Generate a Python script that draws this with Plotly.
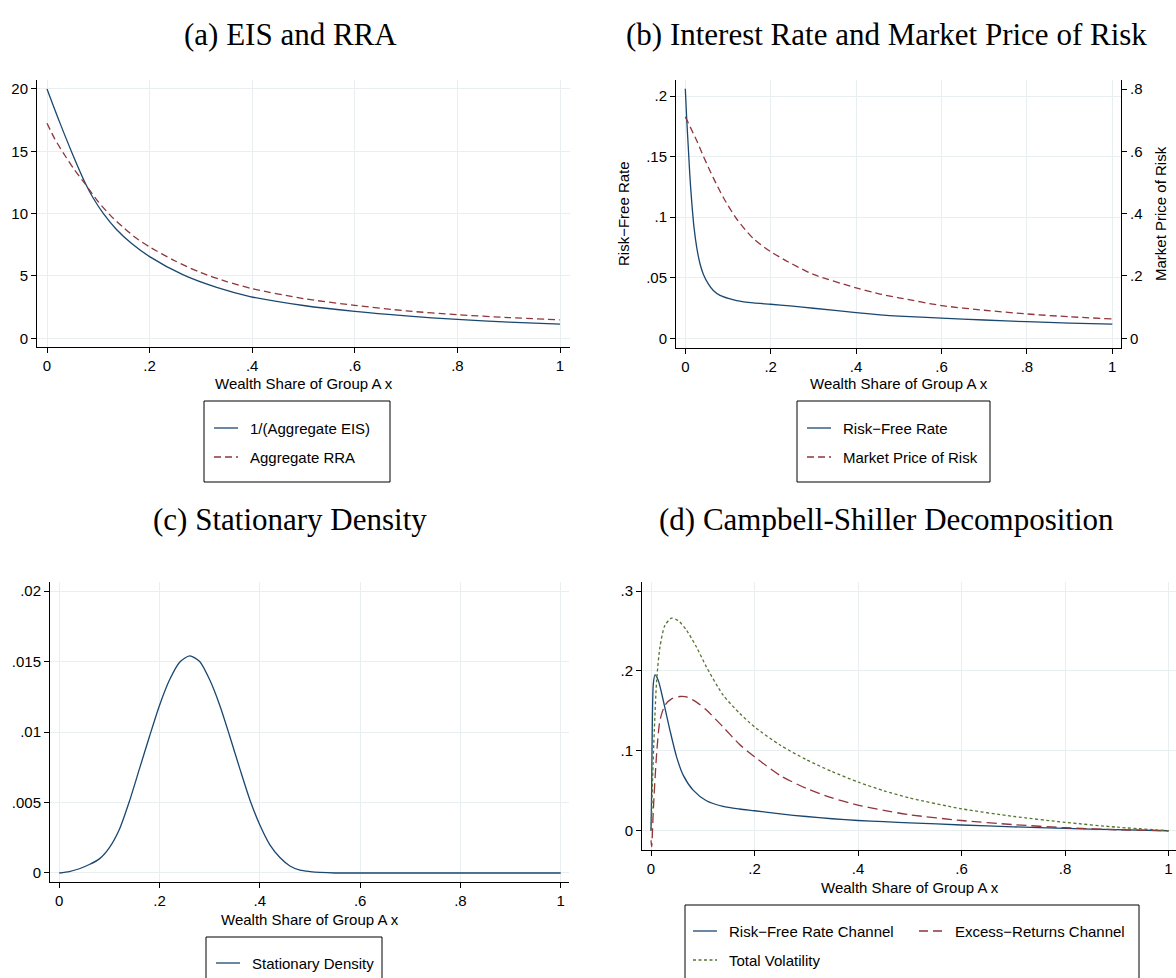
import plotly.graph_objects as go

W, H = 1176, 978

# ---------------- data ----------------
x_tickvals = [0, 0.2, 0.4, 0.6, 0.8, 1]
x_ticktext = ["0", ".2", ".4", ".6", ".8", "1"]

# (a) EIS and RRA
a_x_eis = [0, .024, .048, .074, .09, .11, .135, .165, .2, .2657, .3307, .3957, .5, .6, .7, .8, .9, 1]
a_eis_inv = [20, 17.4, 14.95, 12.5, 11.25, 10.0, 8.75, 7.6, 6.55, 5.08, 4.08, 3.35, 2.63, 2.15, 1.79, 1.51, 1.30, 1.13]
a_x_rra = [0, .015, .032, .052, .074, .1, .125, .15, .175, .2, .25, .3, .35, .4, .5, .6, .7, .8, .9, 1]
a_rra = [17.25, 16.0, 14.85, 13.6, 12.4, 10.95, 9.8, 8.85, 8.0, 7.33, 6.2, 5.26, 4.55, 3.98, 3.18, 2.64,
         2.20, 1.89, 1.66, 1.48]
a_yticks = [0, 5, 10, 15, 20]
a_yticktext = ["0", "5", "10", "15", "20"]

# (b) Interest rate and market price of risk
b_x_rf = [0, .0031, .007, .0109, .0148, .0203, .0266, .0344, .0422, .0539, .0656, .0813, .1008, .1203,
          .1594, .2, .2453, .3, .4, .456, .5, .6, .7, .8, .9, 1]
b_rf = [.206, .1822, .1575, .1329, .1137, .0918, .0753, .0616, .053, .045, .0395, .0355, .0330, .0312,
        .0293, .0282, .0268, .0249, .0213, .0195, .0184, .0168, .0152, .0138, .0127, .0118]
b_x_mpr = [0, .0266, .0422, .0656, .0891, .1203, .1594, .2, .2414, .3, .4, .456, .5, .6, .7, .8, .9, 1]
b_mpr = [.711, .635, .585, .515, .452, .383, .320, .278, .245, .205, .162, .142, .130, .105, .090, .078, .069, .062]
b_yticks_left = [0, .05, .1, .15, .2]
b_yticktext_left = ["0", ".05", ".1", ".15", ".2"]
b_yticks_right = [0, .2, .4, .6, .8]
b_yticktext_right = ["0", ".2", ".4", ".6", ".8"]

# (c) Stationary density
c_x = [0, .02, .04, .06, .08, .10, .12, .14, .16, .18, .20, .22, .24, .26, .28, .30, .32, .34, .36, .38,
       .40, .42, .44, .46, .48, .50, .52, .55, .6, .7, .8, .9, 1]
c_density = [0, .0001, .0003, .0006, .001, .0018, .0031, .0051, .0074, .0097, .0119, .0137, .01495, .0154,
             .0150, .0137, .0119, .0097, .0074, .0052, .0034, .0020, .0011, .0005, .0002, .0001, .00004,
             0, 0, 0, 0, 0, 0]
c_yticks = [0, .005, .01, .015, .02]
c_yticktext = ["0", ".005", ".01", ".015", ".02"]

# (d) Campbell-Shiller decomposition
d_x_rf = [0, .0013, .0026, .0045, .0077, .0141, .0237, .0365, .0494, .0622, .0814, .1071, .1391, .1712,
          .2, .25, .3, .35, .4, .45, .5, .6, .7, .8, .9, 1]
d_rf = [0, .055, .138, .184, .195, .188, .163, .126, .0925, .0696, .0508, .0375, .0305, .0272,
        .025, .021, .0178, .015, .0128, .0113, .0099, .0072, .0049, .0029, .0013, 0]
d_x_er = [0, .0013, .0045, .0109, .0173, .0269, .0397, .0558, .0686, .0878, .1071, .1391, .1712, .2,
          .25, .3, .35, .4, .45, .5, .6, .7, .8, .9, 1]
d_er = [-.012, -.02, .026, .0967, .138, .157, .165, .168, .1675, .161, .151, .130, .108, .0925,
        .069, .053, .041, .032, .0255, .020, .0128, .0077, .0038, .0012, 0]
d_x_tv = [0, .0013, .0032, .0064, .0109, .0173, .0269, .0397, .0526, .0686, .0878, .1071, .1391, .1712,
          .2, .25, .3, .35, .4, .45, .5, .6, .7, .8, .9, 1]
d_tv = [0, .02, .0675, .126, .188, .23, .257, .266, .263, .251, .23, .205, .170, .147,
        .13, .107, .089, .074, .061, .050, .041, .0275, .018, .0105, .0045, 0]
d_yticks = [0, .1, .2, .3]
d_yticktext = ["0", ".1", ".2", ".3"]

# ---------------- styling ----------------
NAVY = "#1a476f"
MAROON = "#90353b"
FOREST = "#55752f"
GRID = "#e9eff1"
SANS = "Liberation Sans, Arial, sans-serif"
SERIF = "Liberation Serif, Times New Roman, serif"
LW = 1.3


def px(xp):
    return xp / W


def py(yp):
    return 1 - yp / H


fig = go.Figure()


def line(x, y, color, dash, xa, ya):
    fig.add_trace(go.Scatter(
        x=x, y=y, mode="lines", xaxis=xa, yaxis=ya, showlegend=False, hoverinfo="skip",
        line=dict(color=color, width=LW, dash=dash, shape="spline", smoothing=0.7)))


line(a_x_eis, a_eis_inv, NAVY, "solid", "x", "y")
line(a_x_rra, a_rra, MAROON, "7px,4px", "x", "y")
line(b_x_rf, b_rf, NAVY, "solid", "x2", "y2")
line(b_x_mpr, b_mpr, MAROON, "7px,4px", "x2", "y5")
line(c_x, c_density, NAVY, "solid", "x3", "y3")
line(d_x_rf, d_rf, NAVY, "solid", "x4", "y4")
line(d_x_er, d_er, MAROON, "10px,5px", "x4", "y4")
line(d_x_tv, d_tv, FOREST, "3px,2.5px", "x4", "y4")

tickfont = dict(family=SANS, size=15, color="black")
common = dict(showline=True, linecolor="black", linewidth=1, ticks="outside", ticklen=5, tickwidth=1,
              tickcolor="black", showgrid=True, gridcolor=GRID, gridwidth=1, zeroline=False,
              tickfont=tickfont, fixedrange=True, tickmode="array")


def xaxis(dom, rng, anchor):
    return dict(domain=[px(dom[0]), px(dom[1])], range=rng, anchor=anchor,
                tickvals=x_tickvals, ticktext=x_ticktext, **common)


def yaxis(dom, rng, anchor, tv, tt, **kw):
    d = dict(domain=[py(dom[1]), py(dom[0])], range=rng, anchor=anchor, tickvals=tv, ticktext=tt)
    d.update(common)
    d.update(kw)
    return d


fig.update_layout(
    width=W, height=H, autosize=False, margin=dict(l=0, r=0, t=0, b=0),
    paper_bgcolor="white", plot_bgcolor="white", showlegend=False,
    xaxis=xaxis((37, 570), [-0.0195, 1.0195], "y"),
    yaxis=yaxis((80, 347), [-0.7, 20.72], "x", a_yticks, a_yticktext),
    xaxis2=xaxis((676, 1121), [-0.0218, 1.0204], "y2"),
    yaxis2=yaxis((80, 348), [-0.0079, 0.2132], "x2", b_yticks_left, b_yticktext_left),
    yaxis5=yaxis((80, 348), [-0.0313, 0.8294], "x2", b_yticks_right, b_yticktext_right,
                 overlaying="y2", side="right"),
    xaxis3=xaxis((50, 569), [-0.0185, 1.0165], "y3"),
    yaxis3=yaxis((582, 882), [-0.00064, 0.02064], "x3", c_yticks, c_yticktext),
    xaxis4=xaxis((642, 1176), [-0.0174, 1.0145], "y4"),
    yaxis4=yaxis((582, 850), [-0.0241, 0.3113], "x4", d_yticks, d_yticktext),
)
fig.layout.yaxis5.showgrid = False

ann = []
shapes = []


def text(x, y, s, size=15, family=SANS, xanchor="center", angle=0):
    ann.append(dict(x=px(x), y=py(y), xref="paper", yref="paper", text=s, showarrow=False,
                    xanchor=xanchor, yanchor="middle", textangle=angle,
                    font=dict(family=family, size=size, color="black")))


# panel titles
text(290, 35, "(a) EIS and RRA", size=31, family=SERIF)
text(886, 35, "(b) Interest Rate and Market Price of Risk", size=31, family=SERIF)
text(290, 519, "(c) Stationary Density", size=31, family=SERIF)
text(886, 519, "(d) Campbell-Shiller Decomposition", size=31, family=SERIF)

# axis titles
xt = "Wealth Share of Group A x"
text(303.5, 384, xt)
text(898.5, 384, xt)
text(309.5, 919, xt)
text(909.5, 887, xt)
text(623, 214, "Risk\u2212Free Rate", angle=-90)
text(1160, 214, "Market Price of Risk", angle=-90)


def box(x0, y0, x1, y1):
    shapes.append(dict(type="rect", xref="paper", yref="paper", x0=px(x0), x1=px(x1), y0=py(y1), y1=py(y0),
                       line=dict(color="black", width=1), fillcolor="rgba(0,0,0,0)"))


def item(xs, y, color, dash, label, xtext):
    shapes.append(dict(type="line", xref="paper", yref="paper", x0=px(xs), x1=px(xs + 24), y0=py(y), y1=py(y),
                       line=dict(color=color, width=LW, dash=dash)))
    text(xtext, y, label, xanchor="left")


# legend (a)
box(204, 401, 390, 482)
item(214, 428, NAVY, "solid", "1/(Aggregate EIS)", 248)
item(214, 457, MAROON, "7px,4px", "Aggregate RRA", 248)
# legend (b)
box(797, 401, 990, 482)
item(807, 428, NAVY, "solid", "Risk\u2212Free Rate", 841)
item(807, 457, MAROON, "7px,4px", "Market Price of Risk", 841)
# legend (c)
box(206, 937, 382, 992)
item(216, 963, NAVY, "solid", "Stationary Density", 250)
# legend (d)
box(685, 905, 1139, 992)
item(693, 931, NAVY, "solid", "Risk\u2212Free Rate Channel", 727)
item(919, 931, MAROON, "9px,5px", "Excess\u2212Returns Channel", 953)
item(693, 960, FOREST, "3px,2.5px", "Total Volatility", 727)

fig.update_layout(annotations=ann, shapes=shapes)
fig.write_html("out.html", config={"displayModeBar": False})
